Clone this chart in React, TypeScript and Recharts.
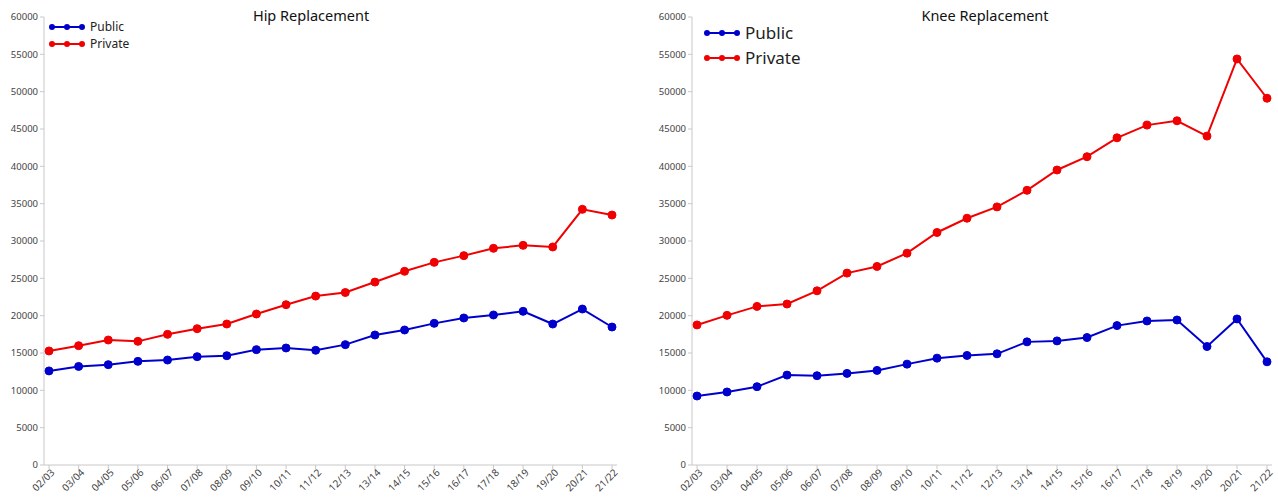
import React from 'react';
import { LineChart, Line, XAxis, YAxis } from 'recharts';

const years = [
  '02/03', '03/04', '04/05', '05/06', '06/07', '07/08', '08/09', '09/10', '10/11', '11/12',
  '12/13', '13/14', '14/15', '15/16', '16/17', '17/18', '18/19', '19/20', '20/21', '21/22',
];

const hipPublic = [
  12600, 13200, 13440, 13880, 14060, 14510, 14640, 15450, 15670, 15360,
  16120, 17410, 18080, 18970, 19690, 20090, 20580, 18880, 20890, 18480,
];
const hipPrivate = [
  15270, 15980, 16740, 16560, 17500, 18260, 18880, 20220, 21470, 22620,
  23100, 24500, 25940, 27140, 28040, 29020, 29420, 29200, 34240, 33480,
];

const kneePublic = [
  9240, 9780, 10490, 12040, 11960, 12270, 12670, 13510, 14310, 14670,
  14890, 16490, 16620, 17070, 18670, 19290, 19420, 15870, 19560, 13820,
];
const kneePrivate = [
  18760, 20040, 21240, 21560, 23330, 25700, 26590, 28370, 31140, 33050,
  34570, 36790, 39510, 41290, 43820, 45520, 46100, 44050, 54380, 49120,
];

const yTicks = [0, 5000, 10000, 15000, 20000, 25000, 30000, 35000, 40000, 45000, 50000, 55000, 60000];

const BLUE = '#0000cd';
const RED = '#f00000';
const FONT = '"Noto Sans", "Open Sans", sans-serif';

const hipData = years.map((y, i) => ({ year: y, Public: hipPublic[i], Private: hipPrivate[i] }));
const kneeData = years.map((y, i) => ({ year: y, Public: kneePublic[i], Private: kneePrivate[i] }));

const XTick = ({ x, y, payload }: any) => (
  <g transform={`translate(${x},${y})`}>
    <text x={3} y={0} dy={6} textAnchor="end" transform="rotate(-45)" fontSize={10} fill="#444" fontFamily={FONT}>
      {payload.value}
    </text>
  </g>
);

// legend drawn as plain html so it doesn't eat into the plot area
function LegendBox({ left, top, fontSize, gap }: { left: number; top: number; fontSize: number; gap: number }) {
  return (
    <div style={{ position: 'absolute', left, top, fontFamily: FONT, fontSize, color: '#222', lineHeight: 1 }}>
      {[
        { name: 'Public', color: BLUE },
        { name: 'Private', color: RED },
      ].map((s) => (
        <div key={s.name} style={{ display: 'flex', alignItems: 'center', height: gap }}>
          <svg width={36} height={10} style={{ marginRight: 5 }}>
            <line x1={2} y1={5} x2={34} y2={5} stroke={s.color} strokeWidth={2} />
            <circle cx={3} cy={5} r={3} fill={s.color} />
            <circle cx={18} cy={5} r={3} fill={s.color} />
            <circle cx={33} cy={5} r={3} fill={s.color} />
          </svg>
          <span>{s.name}</span>
        </div>
      ))}
    </div>
  );
}

type PanelProps = {
  data: any[];
  title: string;
  titleX: number;
  yWidth: number;
  rightMargin: number;
  legendLeft: number;
  legendTop: number;
  legendFont: number;
  legendGap: number;
};

function Panel({ data, title, titleX, yWidth, rightMargin, legendLeft, legendTop, legendFont, legendGap }: PanelProps) {
  return (
    <div style={{ position: 'relative', width: 639, height: 497 }}>
      <LineChart width={639} height={497} data={data} margin={{ top: 17, right: rightMargin, left: 0, bottom: 0 }}>
        <XAxis
          dataKey="year"
          height={32}
          interval={0}
          tick={<XTick />}
          padding={{ left: 5, right: 5 }}
          stroke="#c8c8c8"
          tickLine={{ stroke: '#c8c8c8' }}
          tickSize={4}
        />
        <YAxis
          width={yWidth}
          domain={[0, 60000]}
          ticks={yTicks}
          interval={0}
          stroke="#c8c8c8"
          tickSize={4}
          tickMargin={2}
          tick={{ fontSize: 9.5, fill: '#444', fontFamily: FONT }}
        />
        <Line
          type="linear"
          dataKey="Public"
          stroke={BLUE}
          strokeWidth={2}
          dot={{ r: 4, fill: BLUE, stroke: BLUE, strokeWidth: 1 }}
          isAnimationActive={false}
        />
        <Line
          type="linear"
          dataKey="Private"
          stroke={RED}
          strokeWidth={2}
          dot={{ r: 4, fill: RED, stroke: RED, strokeWidth: 1 }}
          isAnimationActive={false}
        />
      </LineChart>
      <div
        style={{
          position: 'absolute',
          top: 6,
          left: titleX,
          transform: 'translateX(-50%)',
          fontFamily: FONT,
          fontSize: 14.5,
          color: '#111',
          whiteSpace: 'nowrap',
          lineHeight: 1.3,
        }}
      >
        {title}
      </div>
      <LegendBox left={legendLeft} top={legendTop} fontSize={legendFont} gap={legendGap} />
    </div>
  );
}

export default function App() {
  return (
    <div style={{ position: 'absolute', left: 0, top: 0, width: 1278, height: 497, display: 'flex', background: '#fff' }}>
      <Panel
        data={hipData}
        title="Hip Replacement"
        titleX={311}
        yWidth={44}
        rightMargin={22}
        legendLeft={49}
        legendTop={18}
        legendFont={12}
        legendGap={17}
      />
      <Panel
        data={kneeData}
        title="Knee Replacement"
        titleX={346}
        yWidth={53}
        rightMargin={6}
        legendLeft={65}
        legendTop={20}
        legendFont={17}
        legendGap={25}
      />
    </div>
  );
}
